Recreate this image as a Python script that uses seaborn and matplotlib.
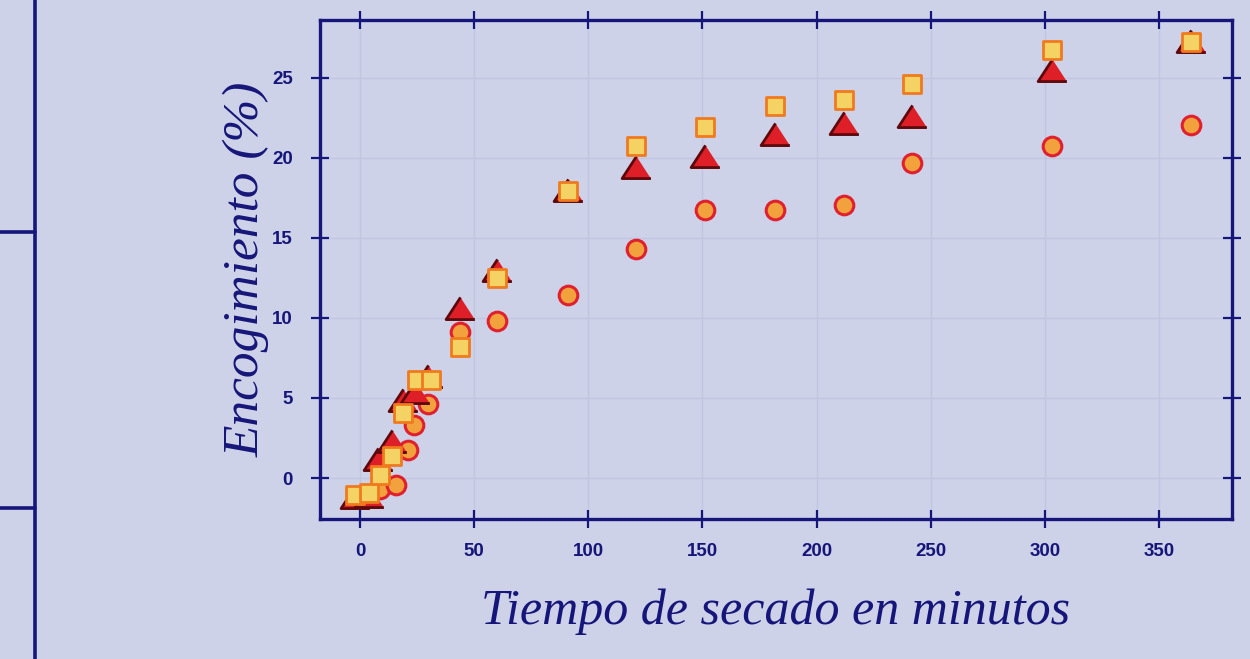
import matplotlib
matplotlib.use("Agg")
import matplotlib.pyplot as plt
from matplotlib.lines import Line2D
import seaborn as sns

# ---- data ----
circle_x = [-1, 4, 9, 16, 21, 23.5, 30, 44, 60, 91, 121, 151, 182, 212, 242, 303, 364]
circle_y = [-1.1, -1.0, -0.7, -0.45, 1.75, 3.3, 4.6, 9.1, 9.8, 11.4, 14.3, 16.75, 16.75, 17.05, 19.7, 20.75, 22.05]

triangle_x = [-2, 4, 8, 14, 19, 24, 30, 44, 60, 91, 121, 151, 182, 212, 242, 303, 364]
triangle_y = [-1.2, -1.1, 1.2, 2.3, 4.9, 5.4, 6.4, 10.6, 13.0, 18.0, 19.4, 20.1, 21.5, 22.15, 22.6, 25.5, 27.3]

square_x = [-2, 4, 9, 14, 19, 25, 31, 44, 60, 91, 121, 151, 182, 212, 242, 303, 364]
square_y = [-1.05, -0.95, 0.2, 1.35, 4.05, 6.1, 6.1, 8.2, 12.5, 17.9, 20.75, 21.9, 23.2, 23.6, 24.6, 26.7, 27.2]

x_ticks = [0, 50, 100, 150, 200, 250, 300, 350]
y_ticks = [0, 5, 10, 15, 20, 25]
x_label = "Tiempo de secado en minutos"
y_label = "Encogimiento (%)"

# ---- style ----
BG = "#CDD2E9"
NAVY = "#16167A"
GRID = "#C0C5E0"

sns.set_theme(style="white")
plt.rcParams["font.family"] = ["DejaVu Sans"]

fig = plt.figure(figsize=(12.5, 6.59), dpi=100, facecolor=BG)
ax = fig.add_axes([0.256, 0.2124, 0.7296, 0.7573])
ax.set_facecolor(BG)

tri_marker = [(0, 1.0), (-1.3, -1.0), (1.3, -1.0)]

sns.scatterplot(x=circle_x, y=circle_y, ax=ax, marker="o", s=180,
                color="#F2A23C", edgecolor="#E0202E", linewidth=2.2, zorder=3)
sns.scatterplot(x=triangle_x, y=triangle_y, ax=ax, marker=tri_marker, s=430,
                color="#DE1F28", edgecolor="#5E080C", linewidth=2.0, zorder=4)
sns.scatterplot(x=square_x, y=square_y, ax=ax, marker="s", s=170,
                color="#F4D264", edgecolor="#F07A1E", linewidth=2.0, zorder=5)

ax.set_xlim(-17.5, 382)
ax.set_ylim(-2.56, 28.6)
ax.set_xticks(x_ticks)
ax.set_yticks(y_ticks)
ax.grid(True, color=GRID, linewidth=1.0, zorder=0)
ax.set_axisbelow(True)

for sp in ax.spines.values():
    sp.set_visible(True)
    sp.set_color(NAVY)
    sp.set_linewidth(2.4)

ax.tick_params(axis="both", which="both", direction="inout", length=13, width=1.6,
               color=NAVY, top=True, right=True, bottom=True, left=True,
               labelcolor=NAVY)
ax.tick_params(axis="y", pad=13)
ax.tick_params(axis="x", pad=11)
for lab in ax.get_xticklabels() + ax.get_yticklabels():
    lab.set_family(["Liberation Sans Narrow", "Liberation Sans", "DejaVu Sans"])
    lab.set_fontweight("bold")
    lab.set_fontsize(13.5)

ax.set_xlabel(x_label, family=["Liberation Serif", "DejaVu Serif"], style="italic",
              fontsize=36, color=NAVY, labelpad=20)
ax.set_ylabel(y_label, family=["Liberation Serif", "DejaVu Serif"], style="italic",
              fontsize=37, color=NAVY, labelpad=2)

# left-side frame decoration
fig.add_artist(Line2D([0.028, 0.028], [0, 1], transform=fig.transFigure, color=NAVY, linewidth=2.6))
fig.add_artist(Line2D([0, 0.028], [1 - 232 / 659, 1 - 232 / 659], transform=fig.transFigure, color=NAVY, linewidth=2.6))
fig.add_artist(Line2D([0, 0.028], [1 - 508 / 659, 1 - 508 / 659], transform=fig.transFigure, color=NAVY, linewidth=2.6))

fig.savefig("out.png", dpi=100, facecolor=BG)
